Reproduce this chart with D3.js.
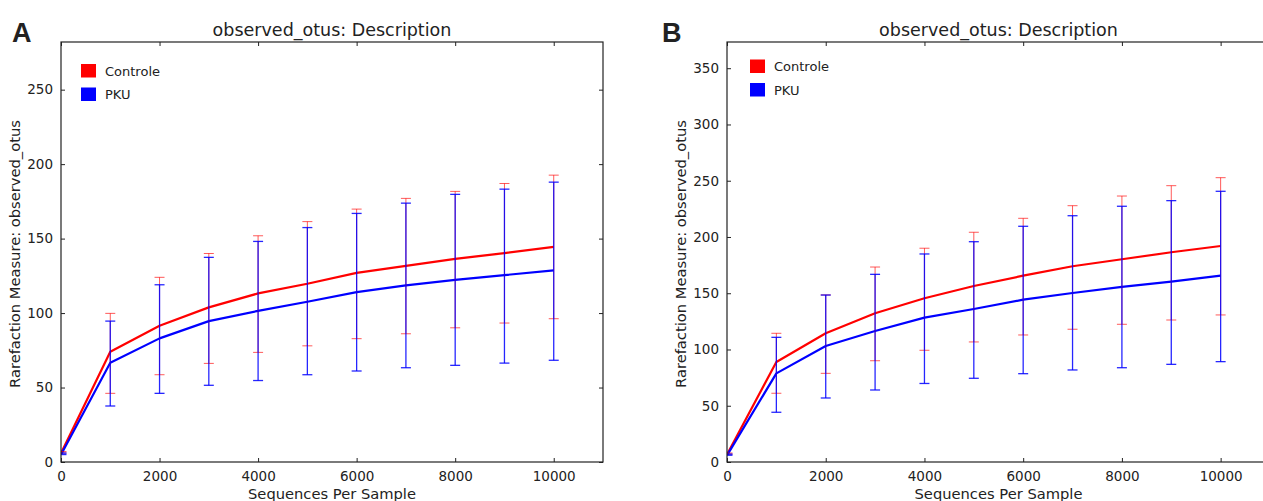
<!DOCTYPE html>
<html>
<head>
<meta charset="utf-8">
<script src="https://cdn.jsdelivr.net/npm/d3@7"></script>
<style>
  html, body { margin: 0; padding: 0; background: #fff; }
  svg { display: block; }
  text { font-family: "DejaVu Sans", sans-serif; fill: #222; }
</style>
</head>
<body>
<script>
// ---- data ----
const depths = [10, 1000, 2000, 3000, 4000, 5000, 6000, 7000, 8000, 9000, 10000];
const seriesNames = ["Controle", "PKU"];
const xTicks = [0, 2000, 4000, 6000, 8000, 10000];
const yTicksA = [0, 50, 100, 150, 200, 250];
const yTicksB = [0, 50, 100, 150, 200, 250, 300, 350];

// Panel A
const aControleMean = [6.5, 74.0, 91.5, 103.8, 113.2, 119.7, 127.0, 131.7, 136.4, 140.3, 144.5];
const aControleLow  = [6.0, 46.1, 58.6, 66.2, 73.6, 78.0, 82.8, 86.1, 90.1, 93.3, 96.2];
const aControleHigh = [7.0, 99.8, 124.0, 140.0, 151.9, 161.4, 169.8, 177.0, 181.7, 187.0, 192.6];
const aPkuMean = [5.5, 66.6, 83.0, 94.6, 101.5, 107.6, 114.1, 118.6, 122.3, 125.5, 128.7];
const aPkuLow  = [5.0, 37.6, 46.1, 51.5, 54.7, 58.6, 61.1, 63.3, 64.9, 66.4, 68.3];
const aPkuHigh = [6.0, 94.6, 119.0, 137.4, 148.1, 157.4, 166.9, 173.8, 179.7, 183.2, 187.9];

// Panel B
const bControleMean = [7.5, 88.9, 114.4, 132.2, 145.5, 156.4, 165.6, 174.0, 180.2, 186.4, 192.0];
const bControleLow  = [7.0, 61.1, 78.8, 90.0, 99.3, 106.7, 112.9, 118.0, 122.4, 126.2, 130.7];
const bControleHigh = [8.0, 114.4, 148.5, 173.3, 190.0, 204.2, 216.6, 227.8, 236.4, 245.6, 252.7];
const bPkuMean = [6.5, 78.8, 103.1, 116.4, 128.3, 136.0, 144.3, 150.2, 155.6, 160.3, 165.6];
const bPkuLow  = [6.0, 44.2, 56.9, 64.0, 69.8, 74.4, 78.5, 81.8, 83.8, 86.8, 89.2];
const bPkuHigh = [7.0, 110.8, 148.4, 166.8, 184.9, 195.8, 209.5, 218.9, 227.3, 232.3, 240.6];

const colors = ["#ff0000", "#0000ff"];

const W = 1263, H = 501;
const svg = d3.select("body").append("svg").attr("width", W).attr("height", H);

function drawPanel(opt) {
  const x = d3.scaleLinear().domain([0, 11000]).range([opt.left, opt.right]);
  const y = d3.scaleLinear().domain([0, opt.ymax]).range([462, 42]);
  const g = svg.append("g");

  const clipId = "clip" + opt.letter;
  svg.append("clipPath").attr("id", clipId).append("rect")
    .attr("x", opt.left).attr("y", 42).attr("width", opt.right - opt.left).attr("height", 420);
  const plot = g.append("g").attr("clip-path", `url(#${clipId})`);

  const series = [
    { mean: opt.cMean, low: opt.cLow, high: opt.cHigh, color: colors[0] },
    { mean: opt.pMean, low: opt.pLow, high: opt.pHigh, color: colors[1] }
  ];
  const line = d3.line().x((d, i) => x(depths[i])).y(d => y(d));

  series.forEach((s, si) => {
    plot.append("path").datum(s.mean).attr("d", line)
      .attr("fill", "none").attr("stroke", s.color).attr("stroke-width", 2.2)
      .attr("stroke-linejoin", "round");
  });
  series.forEach((s, si) => {
    const eb = plot.append("g").attr("stroke", s.color)
      .attr("stroke-opacity", si === 0 ? 0.65 : 0.85).attr("stroke-width", si === 0 ? 1 : 1.3);
    depths.forEach((dp, i) => {
      const cx = x(dp);
      eb.append("line").attr("x1", cx).attr("x2", cx).attr("y1", y(s.low[i])).attr("y2", y(s.high[i]));
      [s.low[i], s.high[i]].forEach(v => {
        eb.append("line").attr("x1", cx - 5).attr("x2", cx + 5).attr("y1", y(v)).attr("y2", y(v));
      });
    });
  });

  // frame
  g.append("rect").attr("x", opt.left).attr("y", 42)
    .attr("width", opt.right - opt.left).attr("height", 420)
    .attr("fill", "none").attr("stroke", "#222").attr("stroke-width", 1.2);

  // axes (inward ticks)
  const xb = g.append("g").attr("transform", "translate(0,462)")
    .call(d3.axisBottom(x).tickValues(xTicks).tickSizeInner(-4).tickSizeOuter(0).tickPadding(9).tickFormat(d3.format("d")));
  const xt = g.append("g").attr("transform", "translate(0,42)")
    .call(d3.axisTop(x).tickValues(xTicks).tickSizeInner(-4).tickSizeOuter(0).tickFormat(""));
  const yl = g.append("g").attr("transform", `translate(${opt.left},0)`)
    .call(d3.axisLeft(y).tickValues(opt.yTicks).tickSizeInner(-4).tickSizeOuter(0).tickPadding(8));
  const yr = g.append("g").attr("transform", `translate(${opt.right},0)`)
    .call(d3.axisRight(y).tickValues(opt.yTicks).tickSizeInner(-4).tickSizeOuter(0).tickFormat(""));
  [xb, xt, yl, yr].forEach(a => {
    a.select(".domain").remove();
    a.selectAll(".tick line").attr("stroke", "#222");
    a.selectAll("text").style("font-family", "DejaVu Sans, sans-serif").style("font-size", "13.5px").attr("fill", "#222");
  });

  // title
  const cx = (opt.left + opt.right) / 2;
  g.append("text").attr("x", cx).attr("y", 36).attr("text-anchor", "middle")
    .style("font-size", "17.5px").text("observed_otus: Description");
  g.append("text").attr("x", cx).attr("y", 499).attr("text-anchor", "middle")
    .style("font-size", "14.7px").text("Sequences Per Sample");
  g.append("text").attr("transform", `translate(${opt.ylabX},254) rotate(-90)`)
    .attr("text-anchor", "middle").attr("dy", "0.35em")
    .style("font-size", "14.7px").text("Rarefaction Measure: observed_otus");

  // panel letter
  g.append("text").attr("x", opt.letterX).attr("y", 42)
    .style("font-family", "Liberation Sans, Arial, sans-serif").style("font-weight", "bold")
    .style("font-size", "27px").attr("fill", "#000").text(opt.letter);

  // legend
  seriesNames.forEach((n, i) => {
    const ly = opt.legY + i * 23.5;
    g.append("rect").attr("x", opt.legX).attr("y", ly).attr("width", 15).attr("height", 13.5)
      .attr("fill", colors[i]);
    g.append("text").attr("x", opt.legX + 24).attr("y", ly + 7).attr("dy", "0.35em")
      .style("font-size", "13px").text(n);
  });
}

drawPanel({
  letter: "A", letterX: 12, left: 61, right: 603, ymax: 282, yTicks: yTicksA, ylabX: 15,
  legX: 81, legY: 64,
  cMean: aControleMean, cLow: aControleLow, cHigh: aControleHigh,
  pMean: aPkuMean, pLow: aPkuLow, pHigh: aPkuHigh
});
drawPanel({
  letter: "B", letterX: 662, left: 727, right: 1270, ymax: 373.3, yTicks: yTicksB, ylabX: 681,
  legX: 750, legY: 59.5,
  cMean: bControleMean, cLow: bControleLow, cHigh: bControleHigh,
  pMean: bPkuMean, pLow: bPkuLow, pHigh: bPkuHigh
});
</script>
</body>
</html>
